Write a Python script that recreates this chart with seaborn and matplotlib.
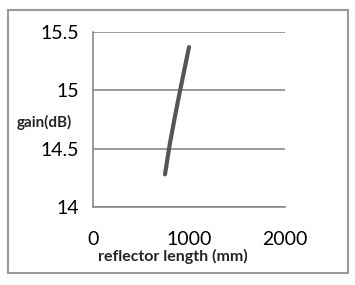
import matplotlib
matplotlib.use("Agg")
import matplotlib.pyplot as plt
import seaborn as sns
import pandas as pd
from matplotlib.patches import Rectangle

reflector_length = [750, 800, 850, 900, 950, 1000]
gain_db = [14.28, 14.54, 14.76, 14.97, 15.17, 15.37]
x_ticks = [0, 1000, 2000]
y_ticks = [14, 14.5, 15, 15.5]
y_tick_labels = ["14", "14.5", "15", "15.5"]

sns.set_style("white")
plt.rcParams['font.family'] = ['Lato', 'DejaVu Sans']

df = pd.DataFrame({"x": reflector_length, "y": gain_db})

fig = plt.figure(figsize=(3.55, 2.85), dpi=100)
ax = fig.add_axes([93/355, 78/285, 192/355, 175/285])
sns.lineplot(data=df, x="x", y="y", ax=ax, color="#555555", linewidth=3.0,
             solid_capstyle="round", solid_joinstyle="round")

ax.set_xlim(0, 2000)
ax.set_ylim(14, 15.5)
ax.set_xticks(x_ticks)
ax.set_yticks(y_ticks)
ax.set_yticklabels(y_tick_labels)
ax.yaxis.grid(True, color="#888888", linewidth=1.2)
ax.xaxis.grid(False)
for s in ["top", "right"]:
    ax.spines[s].set_visible(False)
ax.spines["left"].set_color("#888888")
ax.spines["bottom"].set_color("#888888")
ax.spines["left"].set_linewidth(1.2)
ax.spines["bottom"].set_linewidth(1.2)
ax.tick_params(axis="both", which="both", direction="out", length=4, width=1,
               color="#888888", labelsize=14, labelcolor="black")
ax.tick_params(axis="x", pad=13)
ax.tick_params(axis="y", pad=6)
ax.set_xlabel("")
ax.set_ylabel("")

fig.text(44/355, 1 - 122/285, "gain(dB)", ha="center", va="center",
         fontsize=11, fontweight="bold")
fig.text(173/355, 1 - 256/285, "reflector length (mm)", ha="center", va="center",
         fontsize=11.5, fontweight="bold")

fig.patches.append(Rectangle((8/355, 12/285), 340/355, 263/285, transform=fig.transFigure,
                             fill=False, edgecolor="#999999", linewidth=1.5))

fig.savefig("out.png", dpi=100)
